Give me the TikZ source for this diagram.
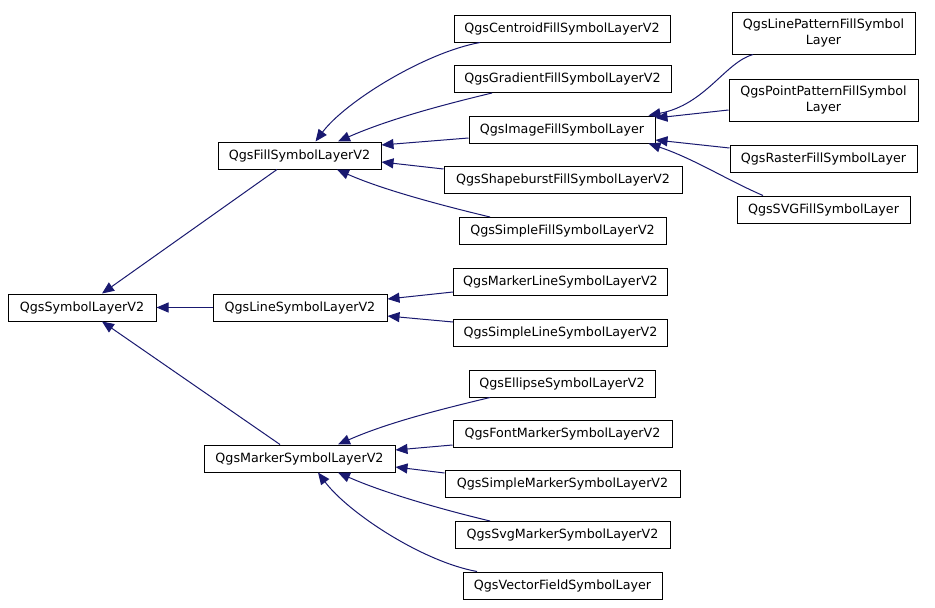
\documentclass[tikz,border=0pt]{standalone}
\usepackage{fontspec}
\setmainfont{DejaVu Sans}
\usetikzlibrary{arrows.meta,calc}
\definecolor{edgeblue}{HTML}{191970}
\tikzset{
  cls/.style={draw=black, line width=1pt, fill=white, inner sep=0pt, minimum height=27pt,
    align=center, font=\fontsize{12.7}{15.5}\selectfont},
  cls2/.style={cls, minimum height=42pt},
  edge/.style={draw=edgeblue, line width=1pt, -{Triangle[length=12pt,width=10pt]}},
}
\begin{document}
\begin{tikzpicture}[x=1pt,y=-1pt]
\fill[white] (0,0) rectangle (935,608);
\useasboundingbox (0,0) rectangle (935,608);
% nodes
\node[cls, minimum width=148pt] (symbol) at (82,307.5) {QgsSymbolLayerV2};
\node[cls, minimum width=174pt] (line) at (300,307.5) {QgsLineSymbolLayerV2};
\node[cls, minimum width=163pt] (fill) at (299.5,155.5) {QgsFillSymbolLayerV2};
\node[cls, minimum width=191pt] (marker) at (299.5,458.5) {QgsMarkerSymbolLayerV2};
\node[cls, minimum width=216pt] (centroid) at (562,28.5) {QgsCentroidFillSymbolLayerV2};
\node[cls, minimum width=217pt] (gradient) at (562.5,79) {QgsGradientFillSymbolLayerV2};
\node[cls, minimum width=186pt] (image) at (562,129.5) {QgsImageFillSymbolLayer};
\node[cls, minimum width=238pt] (shapeburst) at (563,180) {QgsShapeburstFillSymbolLayerV2};
\node[cls, minimum width=207pt] (simplefill) at (562.5,231) {QgsSimpleFillSymbolLayerV2};
\node[cls2, minimum width=183pt] (linepattern) at (823.5,33) {QgsLinePatternFillSymbol\\Layer};
\node[cls2, minimum width=189pt] (pointpattern) at (823.5,100) {QgsPointPatternFillSymbol\\Layer};
\node[cls, minimum width=187pt] (raster) at (823.5,159) {QgsRasterFillSymbolLayer};
\node[cls, minimum width=173pt] (svg) at (823.5,209.5) {QgsSVGFillSymbolLayer};
\node[cls, minimum width=214pt] (markerline) at (560.5,282) {QgsMarkerLineSymbolLayerV2};
\node[cls, minimum width=214pt] (simpleline) at (560.5,333) {QgsSimpleLineSymbolLayerV2};
\node[cls, minimum width=186pt] (ellipse) at (562,383.5) {QgsEllipseSymbolLayerV2};
\node[cls, minimum width=219pt] (fontmarker) at (562.5,433.5) {QgsFontMarkerSymbolLayerV2};
\node[cls, minimum width=235pt] (simplemarker) at (562.5,484) {QgsSimpleMarkerSymbolLayerV2};
\node[cls, minimum width=215pt] (svgmarker) at (562.5,535) {QgsSvgMarkerSymbolLayerV2};
\node[cls, minimum width=199pt] (vector) at (562.5,585.5) {QgsVectorFieldSymbolLayer};
% edges
\draw[edge] ($(fill.south)+(-22.5,0)$) -- ($(symbol.north)+(20,0)$);
\draw[edge] (line.west) -- (symbol.east);
\draw[edge] ($(marker.north)+(-19.5,0)$) -- ($(symbol.south)+(20,0)$);
\draw[edge] ($(centroid.south)+(-82,0)$) .. controls +(-55,10) and +(30,-40) .. ($(fill.north)+(16,0)$);
\draw[edge] ($(gradient.south)+(-70.5,0)$) .. controls +(-50,12) and +(50,-22) .. ($(fill.north)+(38.5,0)$);
\draw[edge] ($(image.west)+(0,8.5)$) -- ($(fill.east)+(0,-10.5)$);
\draw[edge] ($(shapeburst.west)+(0,-11)$) -- ($(fill.east)+(0,6.5)$);
\draw[edge] ($(simplefill.north)+(-72.5,0)$) .. controls +(-50,-12) and +(45,20) .. ($(fill.south)+(37.5,0)$);
\draw[edge] ($(linepattern.south)+(-70.5,0)$) .. controls +(-28,8) and +(57,-11) .. ($(image.north east)+(-7,0)$);
\draw[edge] ($(pointpattern.west)+(0,10)$) -- ($(image.east)+(0,-11.5)$);
\draw[edge] ($(raster.west)+(0,-11)$) -- ($(image.east)+(0,10.5)$);
\draw[edge] ($(svg.north)+(-60.5,0)$) .. controls +(-35,-15) and +(45,15) .. ($(image.south east)+(-7,0)$);
\draw[edge] ($(markerline.west)+(0,10)$) -- ($(line.east)+(0,-8.5)$);
\draw[edge] ($(simpleline.west)+(0,-11)$) -- ($(line.east)+(0,8.5)$);
\draw[edge] ($(ellipse.south)+(-72,0)$) .. controls +(-50,12) and +(50,-22) .. ($(marker.north)+(38.5,0)$);
\draw[edge] ($(fontmarker.west)+(0,11.5)$) -- ($(marker.east)+(0,-8.5)$);
\draw[edge] ($(simplemarker.west)+(0,-11)$) -- ($(marker.east)+(0,8.5)$);
\draw[edge] ($(svgmarker.north)+(-72.5,0)$) .. controls +(-50,-12) and +(45,20) .. ($(marker.south)+(38.5,0)$);
\draw[edge] ($(vector.north)+(-85.5,0)$) .. controls +(-55,-10) and +(30,40) .. ($(marker.south)+(18.5,0)$);
\end{tikzpicture}
\end{document}
